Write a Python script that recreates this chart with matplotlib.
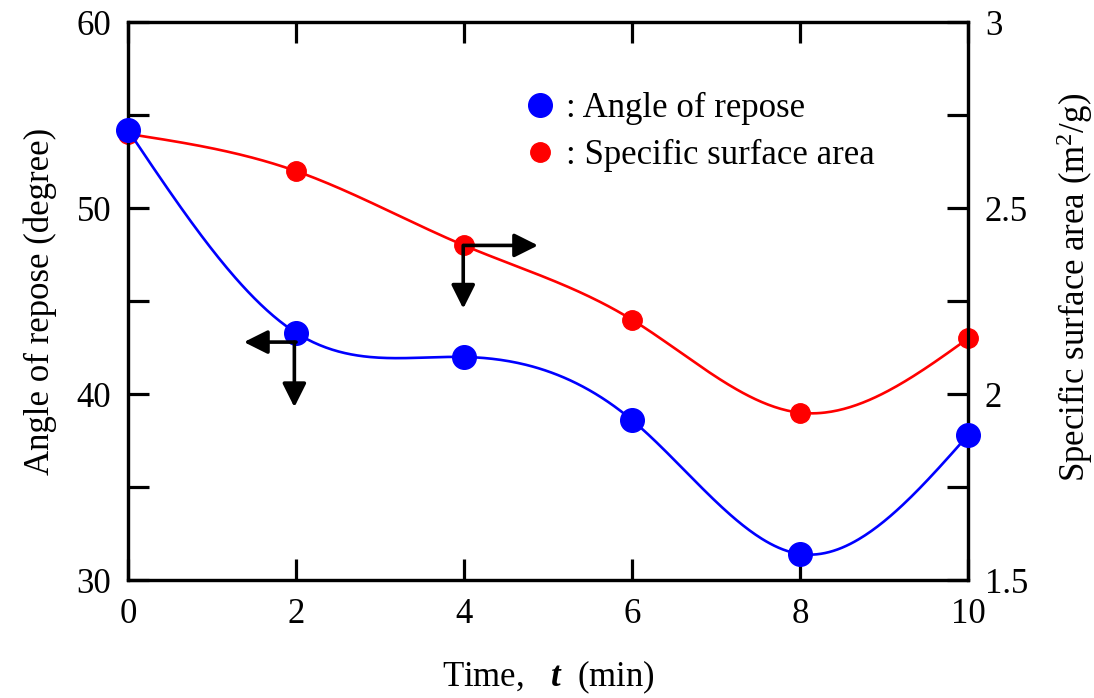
import numpy as np
import matplotlib.pyplot as plt
from matplotlib.lines import Line2D
from matplotlib.ticker import MultipleLocator

plt.rcParams['font.family'] = ['Liberation Serif', 'DejaVu Serif']
plt.rcParams['mathtext.fontset'] = 'custom'
plt.rcParams['mathtext.rm'] = 'Liberation Serif'
plt.rcParams['mathtext.it'] = 'Liberation Serif:italic'
plt.rcParams['mathtext.bf'] = 'Liberation Serif:bold'
plt.rcParams['mathtext.bfit'] = 'Liberation Serif:bold:italic'

# data
time_min = [0, 2, 4, 6, 8, 10]
angle_deg = [54.2, 43.3, 42.0, 38.6, 31.4, 37.8]
surface_area = [2.70, 2.60, 2.40, 2.20, 1.95, 2.15]

FS = 25


def smooth(x, y, n=400):
    # natural cubic spline through the points
    x = np.asarray(x, float)
    y = np.asarray(y, float)
    k = len(x)
    h = np.diff(x)
    A = np.zeros((k, k))
    b = np.zeros(k)
    A[0, 0] = A[-1, -1] = 1
    for i in range(1, k - 1):
        A[i, i - 1] = h[i - 1]
        A[i, i] = 2 * (h[i - 1] + h[i])
        A[i, i + 1] = h[i]
        b[i] = 6 * ((y[i + 1] - y[i]) / h[i] - (y[i] - y[i - 1]) / h[i - 1])
    M = np.linalg.solve(A, b)
    xs = np.linspace(x[0], x[-1], n)
    idx = np.clip(np.searchsorted(x, xs) - 1, 0, k - 2)
    x0, x1 = x[idx], x[idx + 1]
    hh = x1 - x0
    t0 = x1 - xs
    t1 = xs - x0
    ys = (M[idx] * t0**3 + M[idx + 1] * t1**3) / (6 * hh) \
        + (y[idx] / hh - M[idx] * hh / 6) * t0 \
        + (y[idx + 1] / hh - M[idx + 1] * hh / 6) * t1
    return xs, ys


fig = plt.figure(figsize=(10.94, 6.98), dpi=100)
ax = fig.add_axes([0.117, 0.169, 0.768, 0.799])
ax2 = ax.twinx()
# blue series drawn on top of the red one
ax.set_zorder(ax2.get_zorder() + 1)
ax.patch.set_visible(False)

xs2, ys2 = smooth(time_min, surface_area)
ax2.plot(xs2, ys2, color='#ff0000', lw=1.9, zorder=3)
ax2.plot(time_min, surface_area, 'o', color='#ff0000', ms=14, zorder=4, clip_on=False)

xs, ys = smooth(time_min, angle_deg)
ax.plot(xs, ys, color='#0000ff', lw=1.9, zorder=3)
ax.plot(time_min, angle_deg, 'o', color='#0000ff', ms=17, zorder=4, clip_on=False)

ax.set_xlim(0, 10)
ax.set_ylim(30, 60)
ax2.set_ylim(1.5, 3)

ax.xaxis.set_major_locator(MultipleLocator(2))
ax.yaxis.set_major_locator(MultipleLocator(10))
ax.yaxis.set_minor_locator(MultipleLocator(5))
ax2.yaxis.set_minor_locator(MultipleLocator(0.25))
ax2.set_yticks([1.5, 2, 2.5, 3])
ax2.set_yticklabels(['1.5', '2', '2.5', '3'])

for a in (ax, ax2):
    for s in a.spines.values():
        s.set_linewidth(2.3)
ax.tick_params(axis='both', which='both', direction='in', length=15, width=2.3,
               labelsize=FS, top=True)
ax.tick_params(axis='x', pad=13)
ax.tick_params(axis='y', pad=12)
ax2.tick_params(axis='y', which='both', direction='in', length=15, width=2.3,
                labelsize=FS, pad=12)

ax.set_xlabel(r'Time,   $\mathbfit{t}$  (min)', fontsize=FS, labelpad=20)
ax.set_ylabel('Angle of repose (degree)', fontsize=FS, labelpad=14)
ax2.set_ylabel(r'Specific surface area (m$^2$/g)', fontsize=FS, labelpad=19)
ax2.yaxis.label.set_y(0.525)

# arrows pointing to the axis each series belongs to
arrow = dict(arrowstyle='-|>', mutation_scale=36, lw=2.6, color='k',
             shrinkA=0, shrinkB=0)
ax.annotate('', xy=(1.38, 42.8), xytext=(2.0, 42.8), arrowprops=arrow, zorder=5)
ax.annotate('', xy=(1.98, 39.3), xytext=(1.98, 42.8), arrowprops=arrow, zorder=5)
ax2.annotate('', xy=(4.88, 2.40), xytext=(4.0, 2.40), arrowprops=arrow, zorder=5)
ax2.annotate('', xy=(3.99, 2.23), xytext=(3.99, 2.40), arrowprops=arrow, zorder=5)

handles = [Line2D([], [], ls='none', marker='o', color='#0000ff', ms=17),
           Line2D([], [], ls='none', marker='o', color='#ff0000', ms=14)]
ax.legend(handles, [': Angle of repose', ': Specific surface area'],
          loc='upper left', bbox_to_anchor=(0.453, 0.9), frameon=False,
          fontsize=FS, handlelength=1.0, handletextpad=0.25, labelspacing=0.4,
          borderaxespad=0)

fig.savefig('out.png', dpi=100)
